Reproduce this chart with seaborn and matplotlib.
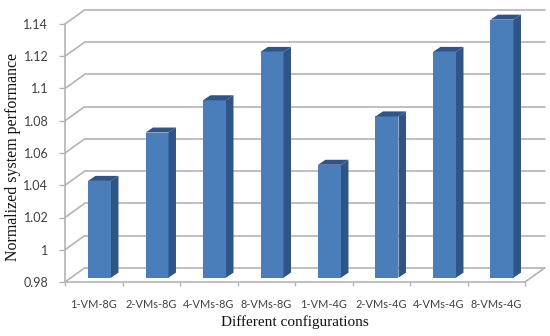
import matplotlib
matplotlib.use("Agg")
import matplotlib.pyplot as plt
import pandas as pd
import seaborn as sns
from matplotlib.patches import Polygon

configs = ["1-VM-8G", "2-VMs-8G", "4-VMs-8G", "8-VMs-8G", "1-VM-4G", "2-VMs-4G", "4-VMs-4G", "8-VMs-4G"]
performance = [1.04, 1.07, 1.09, 1.12, 1.05, 1.08, 1.12, 1.14]
yticks = [0.98, 1, 1.02, 1.04, 1.06, 1.08, 1.1, 1.12, 1.14]
ylabels = ["0.98", "1", "1.02", "1.04", "1.06", "1.08", "1.1", "1.12", "1.14"]

sns.set_style("white")
plt.rcParams["font.family"] = ["Lato", "DejaVu Sans"]

front = "#4a7ebb"
dark = "#2f5487"
grid = "#b4b4b4"
text = "#404040"

# depth of the fake 3d box and of the bars, in data units
wall_x, wall_y = 0.34, 0.0087
bar_x, bar_y = 0.13, 0.0031
shift_x, shift_y = 0.1, 0.0027
base = 0.98

df = pd.DataFrame({"config": configs, "perf": performance})

fig = plt.figure(figsize=(5.5, 3.36), dpi=100)
ax = fig.add_axes([65 / 550, 1 - 282 / 336, 460 / 550, 258 / 336])

sns.barplot(data=df, x="config", y="perf", color=front, saturation=1, width=0.4, ax=ax, zorder=3)
ax.set_xlim(-0.5, 7.5)
ax.set_ylim(base, 1.14)

# walls and floor
for v in yticks:
    ax.plot([-0.5 + wall_x, 7.5 + wall_x], [v + wall_y, v + wall_y], color=grid, lw=1.2, clip_on=False, zorder=1)
    ax.plot([-0.5, -0.5 + wall_x], [v, v + wall_y], color=grid, lw=1.2, clip_on=False, zorder=1)
ax.plot([7.5, 7.5 + wall_x], [base, base + wall_y], color=grid, lw=1.2, clip_on=False, zorder=1)

# move the bars to the middle of the floor and add the side and top faces
for patch, val in zip(list(ax.patches), performance):
    x0 = patch.get_x() + shift_x
    x1 = x0 + patch.get_width()
    y0 = base + shift_y
    y1 = val + shift_y
    patch.set_x(x0)
    patch.set_y(y0)
    patch.set_height(val - base)
    patch.set_edgecolor("none")
    patch.set_clip_on(False)
    ax.add_patch(Polygon([(x1, y0), (x1 + bar_x, y0 + bar_y), (x1 + bar_x, y1 + bar_y), (x1, y1)],
                         facecolor=dark, edgecolor="none", zorder=3, clip_on=False))
    ax.add_patch(Polygon([(x0, y1), (x0 + bar_x, y1 + bar_y), (x1 + bar_x, y1 + bar_y), (x1, y1)],
                         facecolor=dark, edgecolor="none", zorder=3, clip_on=False))

sns.despine(ax=ax)
for side in ["left", "bottom"]:
    ax.spines[side].set_color(grid)
    ax.spines[side].set_linewidth(1.2)

ax.set_yticks(yticks)
ax.set_yticklabels(ylabels, fontsize=9, color=text)
ax.set_xticks(range(len(configs)))
ax.set_xticklabels(configs, fontsize=7.9, color=text)
ax.set_xticks([i - 0.5 for i in range(len(configs) + 1)], minor=True)
ax.tick_params(axis="x", which="major", length=0, pad=12)
ax.tick_params(axis="x", which="minor", length=3, width=1, color=grid, bottom=True)
ax.tick_params(axis="y", length=4, width=1, color=grid, pad=8, left=True)

ax.set_xlabel("Different configurations", fontsize=11, family="Liberation Serif", color="#111111")
ax.set_ylabel("Normalized system performance", fontsize=11.4, family="Liberation Serif", color="#111111")
ax.xaxis.set_label_coords((295 - 65) / 460, -33 / 258)
ax.yaxis.set_label_coords(-44 / 460, (282 - 157) / 258)

fig.savefig("out.png", dpi=100)
